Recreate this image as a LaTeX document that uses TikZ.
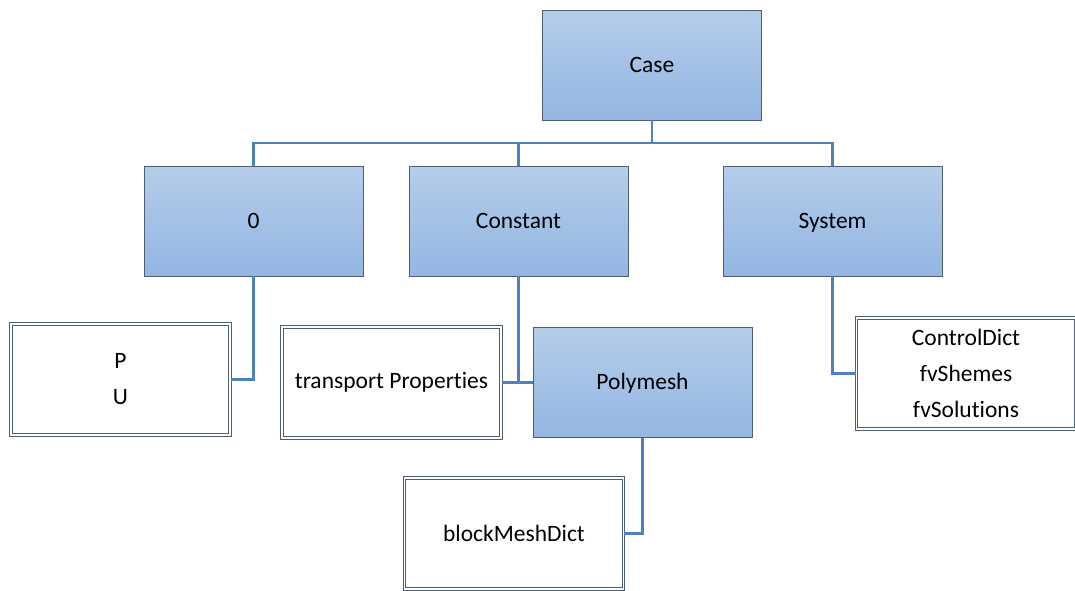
\documentclass[tikz,border=0pt]{standalone}
\usepackage{fontspec}
\setmainfont{Carlito}[Ligatures=NoCommon]
\definecolor{linkblue}{HTML}{4F81BD}
\definecolor{boxtop}{HTML}{B4CDEA}
\definecolor{boxbot}{HTML}{94B6E2}
\definecolor{boxline}{HTML}{4E5F75}

\begin{document}
\begin{tikzpicture}[x=1pt, y=-1pt,
                    dirnode/.style={rectangle, draw=boxline, top color=boxtop, bottom color=boxbot, line width=0.8pt, minimum width=219pt, minimum height=110pt, inner sep=0pt, text height=16pt, text depth=2pt, font=\fontsize{23.5}{36}\selectfont},
                    filenode/.style={rectangle, draw=boxline, double=white, double distance=1.1pt, line width=1.2pt, fill=white, minimum width=219pt, minimum height=111pt, inner sep=0pt, align=center, font=\fontsize{23.5}{36}\selectfont},
                    link/.style={draw=linkblue, line width=2.4pt},
                ]
                    \useasboundingbox (0,0) rectangle (1075,590);

                    %Nodes
                    \node[dirnode](case) at (652,65) {Case};
                    \node[dirnode](zero) at (253.5,221) {0};
                    \node[dirnode](constant) at (518.5,221) {Constant};
                    \node[dirnode](system) at (832.5,221) {System};
                    \node[filenode](fields) at (120.5,379.5) {P\\U};
                    \node[filenode](transport) at (391.5,382.5) {transport Properties};
                    \node[dirnode](polymesh) at (642.5,382.5) {Polymesh};
                    \node[filenode](controls) at (966,373.5) {ControlDict\\fvShemes\\fvSolutions};
                    \node[filenode](blockmesh) at (514,533.5) {blockMeshDict};
                    \coordinate (bus) at (0,143);

                    %Lines
                    \draw[link](case.south) -- (case.south |- bus);
                    \draw[link](zero.north) -- (zero.north |- bus) -| (system.north);
                    \draw[link](constant.north) -- (constant.north |- bus);
                    \draw[link](zero.south) |- (fields.east);
                    \draw[link](constant.south) |- (transport.east);
                    \draw[link](transport.east) -- (polymesh.west);
                    \draw[link](system.south) |- (controls.west);
                    \draw[link](polymesh.south) |- (blockmesh.east);
                \end{tikzpicture}
\end{document}
